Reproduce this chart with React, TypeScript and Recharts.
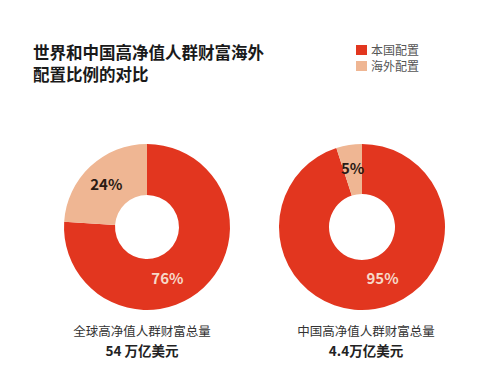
import { PieChart, Pie, Cell } from 'recharts';

const categories = ['本国配置', '海外配置'];
const globalShares = [76, 24];
const chinaShares = [95, 5];
const captions = ['全球高净值人群财富总量', '中国高净值人群财富总量'];
const totals = ['54 万亿美元', '4.4万亿美元'];
const title = ['世界和中国高净值人群财富海外', '配置比例的对比'];

const COLORS = ['#e2361f', '#efb693'];
const FONT = '"Noto Sans CJK SC", "Noto Sans", sans-serif';
const RAD = Math.PI / 180;

const toRows = (values: number[]) =>
  values.map((v, i) => ({ name: categories[i], value: v }));

const renderLabel = (props: any) => {
  const { cx, cy, innerRadius, outerRadius, midAngle, index, value } = props;
  // big slice label sits in the lower right, small slice at its middle
  const angle = index === 0 ? -68 : midAngle;
  const r = index === 0 ? (innerRadius + outerRadius) / 2 - 3 : (innerRadius + outerRadius) / 2 + 2;
  const x = cx + r * Math.cos(angle * RAD);
  const y = cy - r * Math.sin(angle * RAD);
  return (
    <text
      x={x}
      y={y}
      fill={index === 0 ? '#f6d9c8' : '#2a1a14'}
      textAnchor="middle"
      dominantBaseline="central"
      fontSize={15}
      fontWeight={700}
      fontFamily={FONT}
    >
      {value}%
    </text>
  );
};

export default function App() {
  return (
    <div style={{ position: 'absolute', left: 0, top: 0, width: 500, height: 370, background: '#fff', fontFamily: FONT }}>
      <div style={{ position: 'absolute', left: 33, top: 41, fontSize: 16.5, fontWeight: 700, lineHeight: '22px', color: '#1a1a1a' }}>
        {title.map((t) => (
          <div key={t}>{t}</div>
        ))}
      </div>
      <div style={{ position: 'absolute', left: 356, top: 42, fontSize: 12, lineHeight: '16px', color: '#555' }}>
        {categories.map((c, i) => (
          <div key={c} style={{ display: 'flex', alignItems: 'center' }}>
            <span style={{ display: 'inline-block', width: 11, height: 10, background: COLORS[i], marginRight: 4 }} />
            {c}
          </div>
        ))}
      </div>
      <PieChart width={500} height={370} style={{ position: 'absolute', left: 0, top: 0 }}>
        <Pie
          data={toRows(globalShares)}
          dataKey="value"
          cx={142}
          cy={222}
          innerRadius={32}
          outerRadius={83}
          startAngle={90}
          endAngle={-270}
          stroke="none"
          label={renderLabel}
          labelLine={false}
          isAnimationActive={false}
        >
          {globalShares.map((_, i) => (
            <Cell key={i} fill={COLORS[i]} />
          ))}
        </Pie>
        <Pie
          data={toRows(chinaShares)}
          dataKey="value"
          cx={357}
          cy={222}
          innerRadius={33}
          outerRadius={83}
          startAngle={90}
          endAngle={-270}
          stroke="none"
          label={renderLabel}
          labelLine={false}
          isAnimationActive={false}
        >
          {chinaShares.map((_, i) => (
            <Cell key={i} fill={COLORS[i]} />
          ))}
        </Pie>
      </PieChart>
      {captions.map((c, i) => (
        <div
          key={c}
          style={{
            position: 'absolute',
            left: i === 0 ? 142 - 100 : 366 - 100,
            top: 321,
            width: 200,
            textAlign: 'center',
            color: '#222',
          }}
        >
          <div style={{ fontSize: 12.5, lineHeight: '19px', color: '#333' }}>{c}</div>
          <div style={{ fontSize: 13.5, fontWeight: 700, lineHeight: '20px' }}>{totals[i]}</div>
        </div>
      ))}
    </div>
  );
}
